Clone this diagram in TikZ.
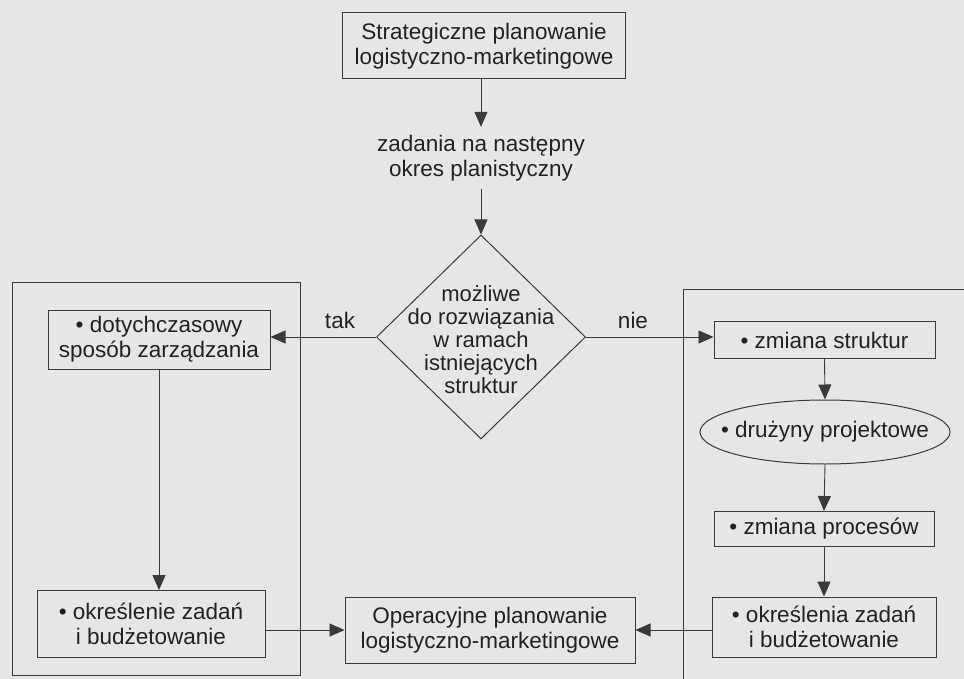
\documentclass[tikz,border=0pt]{standalone}
\usepackage{fontspec}
\setmainfont{Liberation Sans}
\usetikzlibrary{shapes.geometric,arrows.meta}
\definecolor{paper}{HTML}{E6E6E6}
\definecolor{ink}{HTML}{222222}
\definecolor{rule}{HTML}{3A3A3A}
\begin{document}
\begin{tikzpicture}[x=1pt,y=-1pt,
  font=\fontsize{22.5}{25}\selectfont, text=ink,
  box/.style={draw=rule, line width=1pt, align=center, inner sep=0pt},
  frame/.style={draw=rule, line width=0.8pt},
  arr/.style={draw=rule, line width=0.9pt, -{Triangle[length=15pt,width=13pt]}},
  lab/.style={align=center, inner sep=0pt}]
  % page
  \fill[paper] (0,0) rectangle (964,679);
  \useasboundingbox (0,0) rectangle (964,679);

  % outer frames of the two branches
  \node[frame, minimum width=288, minimum height=393, inner sep=0pt] (lframe) at (156,478.5) {};
  \begin{scope}
    \clip (0,0) rectangle (964,679);
    \node[frame, minimum width=320, minimum height=420, inner sep=0pt] (rframe) at (843,499) {};
  \end{scope}

  % strategic level
  \node[box, minimum width=283, minimum height=66] (strat) at (484,46)
    {Strategiczne planowanie\\logistyczno-marketingowe};
  \node[lab, inner sep=0pt, minimum height=62] (zad) at (481,158)
    {zadania na następny\\okres planistyczny};

  % decision
  \node[diamond, draw=rule, line width=1pt, inner sep=0pt, minimum width=209, minimum height=204] (dec) at (481,337) {};
  \node[lab, font=\fontsize{22}{23}\selectfont] (dectext) at (481,340)
    {możliwe\\do rozwiązania\\w ramach\\istniejących\\struktur};
  \node[lab] (tak) at (340,320) {tak};
  \node[lab] (nie) at (633,320) {nie};

  % left branch
  \node[box, minimum width=222, minimum height=59] (dot) at (159,339.5)
    {• dotychczasowy\\sposób zarządzania};
  \node[box, minimum width=228, minimum height=67] (okr1) at (151,624)
    {• określenie zadań\\i budżetowanie};

  % operational level
  \node[box, minimum width=290, minimum height=66] (op) at (490,630)
    {Operacyjne planowanie\\logistyczno-marketingowe};

  % right branch
  \node[box, minimum width=221, minimum height=37] (zs) at (824.5,340) {• zmiana struktur};
  \node[ellipse, draw=rule, line width=1pt, inner sep=0pt, minimum width=250, minimum height=64] (ell) at (825,432) {};
  \node[lab] (elltext) at (ell.center) {• drużyny projektowe};
  \node[box, minimum width=220, minimum height=35] (zp) at (824,529) {• zmiana procesów};
  \node[box, minimum width=224, minimum height=60] (okr2) at (824,627)
    {• określenia zadań\\i budżetowanie};

  % connectors
  \draw[arr] (strat.south -| zad.north) -- (zad.north);
  \draw[arr] (zad.south) -- (dec.north);
  \draw[arr] (dec.west) -- (dec.west -| dot.east);
  \draw[arr] (dec.east) -- (dec.east -| zs.west);
  \draw[arr] (dot.south) -- (dot.south |- okr1.north);
  \draw[arr] (okr1.east |- op.west) -- (op.west);
  \draw[arr] (okr2.west |- op.east) -- (op.east);
  \draw[arr] (zs.south) -- (ell.north);
  \draw[arr] (ell.south) -- (zp.north);
  \draw[arr] (zp.south) -- (okr2.north);
\end{tikzpicture}
\end{document}
